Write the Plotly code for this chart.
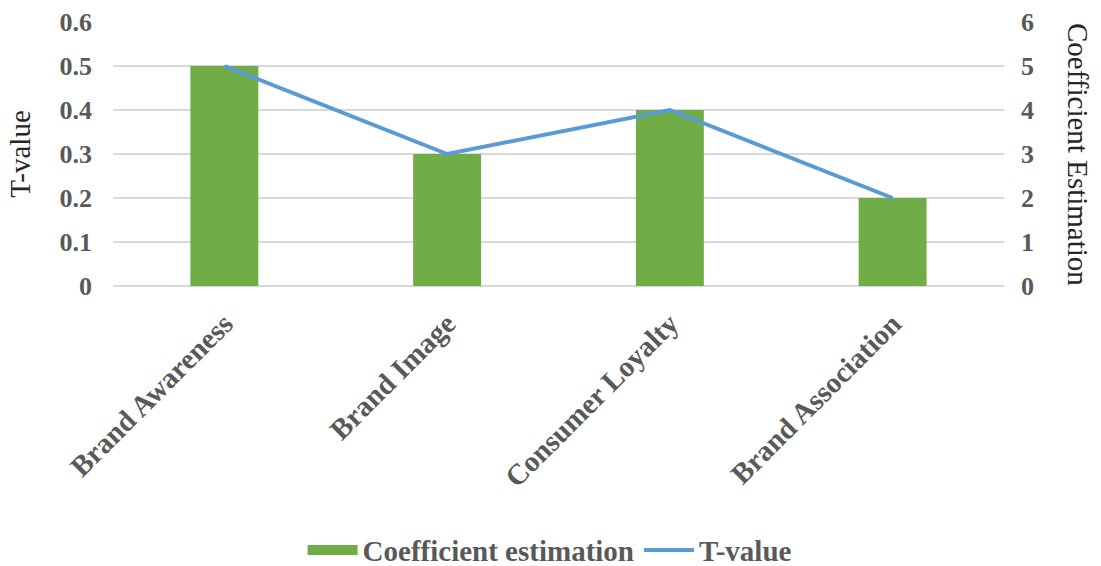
import plotly.graph_objects as go

categories = ["Brand Awareness", "Brand Image", "Consumer Loyalty", "Brand Association"]
coef_values = [0.5, 0.3, 0.4, 0.2]
t_values = [5, 3, 4, 2]
left_ticks = [0, 0.1, 0.2, 0.3, 0.4, 0.5, 0.6]
left_tick_text = ["0", "0.1", "0.2", "0.3", "0.4", "0.5", "0.6"]
right_ticks = [0, 1, 2, 3, 4, 5, 6]

FONT = "Liberation Serif"
TICKC = "#595959"
GREEN = "#70AD47"
BLUE = "#5B9BD5"

fig = go.Figure()
fig.add_trace(go.Bar(
    x=categories, y=coef_values, name="Coefficient estimation", showlegend=False,
    marker=dict(color=GREEN, line=dict(width=0)), width=0.305, yaxis="y"))
# legend proxy for bar (wide rectangle swatch)
fig.add_trace(go.Scatter(
    x=[None], y=[None], name="Coefficient estimation", mode="lines",
    line=dict(color=GREEN, width=14), yaxis="y"))
fig.add_trace(go.Scatter(
    x=categories, y=t_values, name="T-value", mode="lines",
    line=dict(color=BLUE, width=4), yaxis="y2"))

fig.update_layout(
    width=1101, height=566,
    margin=dict(l=113, r=97, t=22, b=280, autoexpand=False),
    plot_bgcolor="white", paper_bgcolor="white",
    font=dict(family=FONT, color=TICKC),
    showlegend=True,
    legend=dict(orientation="h", x=0.49, xanchor="center", yref="container", y=0.028, yanchor="middle",
                font=dict(family=FONT, size=29, color=TICKC, weight="bold"),
                itemwidth=50, tracegroupgap=0),
    xaxis=dict(tickangle=-45, tickfont=dict(family=FONT, size=29, color=TICKC, weight="bold"),
               showgrid=False, showline=False, ticks="", ticklabelstandoff=14),
    yaxis=dict(range=[0, 0.6], tickvals=left_ticks, ticktext=left_tick_text,
               tickfont=dict(family=FONT, size=26, color=TICKC, weight="bold"),
               showgrid=True, gridcolor="#D9D9D9", gridwidth=1.5, zeroline=True,
               zerolinecolor="#D9D9D9", zerolinewidth=1.5, ticks="", ticklabelstandoff=20,
               title=dict(text="T-value", font=dict(family=FONT, size=29, color="#262626"), standoff=20)),
    yaxis2=dict(range=[0, 6], tickvals=right_ticks, overlaying="y", side="right",
                tickfont=dict(family=FONT, size=26, color=TICKC, weight="bold"),
                showgrid=False, zeroline=False, ticks="", ticklabelstandoff=16),
    bargap=0.2,
)
fig.add_annotation(text="Coefficient Estimation", textangle=90, xref="paper", yref="paper",
                   x=1.0, xshift=92, y=0.5, showarrow=False,
                   font=dict(family=FONT, size=29, color="#262626"))
fig.write_html("out.html")
